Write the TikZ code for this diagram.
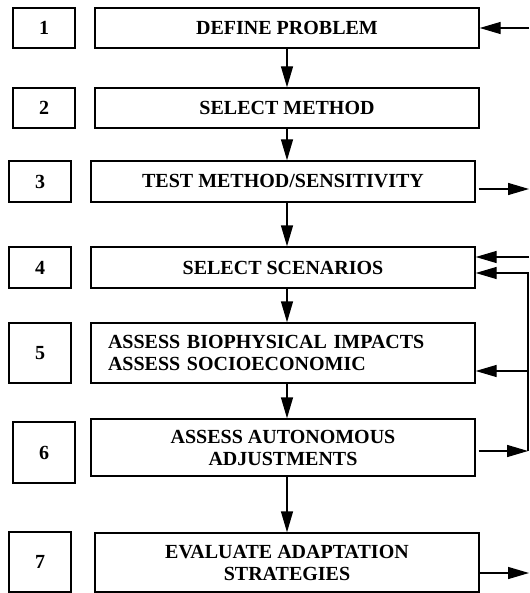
\documentclass[tikz,border=0pt]{standalone}
\usepackage{fontspec}
\setmainfont{Liberation Serif}
\usetikzlibrary{arrows.meta}

\begin{document}
\begin{tikzpicture}[x=0.5pt, y=-0.5pt,
    numbox/.style={draw=black, line width=0.7pt, minimum width=31pt, inner sep=0pt, font=\bfseries\fontsize{10}{11}\selectfont},
    stepbox/.style={draw=black, line width=0.7pt, minimum width=192pt, inner sep=0pt, align=center, font=\bfseries\fontsize{10}{11}\selectfont},
    arr/.style={-{Triangle[length=10.5pt, width=6pt]}, line width=0.7pt}]
      \useasboundingbox (0,0) rectangle (529,593);
      % step numbers
      \node[numbox, minimum height=20pt] at (44,28) (n1) {1};
      \node[numbox, minimum height=20pt] at (44,108) (n2) {2};
      \node[numbox, minimum height=20.5pt] at (40,181.5) (n3) {3};
      \node[numbox, minimum height=20.5pt] at (40,267.5) (n4) {4};
      \node[numbox, minimum height=30pt] at (40,353) (n5) {5};
      \node[numbox, minimum height=30.5pt] at (44,452.5) (n6) {6};
      \node[numbox, minimum height=30pt] at (40,562) (n7) {7};
      % steps
      \node[stepbox, minimum height=20pt] at (287,28) (b1) {DEFINE PROBLEM};
      \node[stepbox, minimum height=20pt] at (287,108) (b2) {SELECT METHOD};
      \node[stepbox, minimum height=20.5pt] at (283,181.5) (b3) {TEST METHOD/SENSITIVITY};
      \node[stepbox, minimum height=20.5pt] at (283,267.5) (b4) {SELECT SCENARIOS};
      \node[stepbox, minimum height=30pt, text width=175pt, inner xsep=8.5pt, align=left] at (283,353) (b5) {ASSESS BIOPHYSICAL IMPACTS\\ASSESS SOCIOECONOMIC};
      \node[stepbox, minimum height=28.5pt] at (283,447.5) (b6) {ASSESS AUTONOMOUS\\ADJUSTMENTS};
      \node[stepbox, minimum height=29.5pt] at (287,562.5) (b7) {EVALUATE ADAPTATION\\STRATEGIES};
      % main flow
      \draw[arr] (b1.south) -- (b1.south |- b2.north);
      \draw[arr] (b2.south) -- (b2.south |- b3.north);
      \draw[arr] (b3.south -| b2.south) -- (b2.south |- b4.north);
      \draw[arr] (b4.south -| b2.south) -- (b2.south |- b5.north);
      \draw[arr] (b5.south -| b2.south) -- (b2.south |- b6.north);
      \draw[arr] (b6.south -| b2.south) -- (b2.south |- b7.north);
      % side links
      \coordinate (in1) at (529,28);
      \coordinate (out3) at (529,189);
      \coordinate (in4) at (529,257);
      \coordinate (fb4) at (528,273);
      \coordinate (fb5) at (528,371);
      \coordinate (fb6) at (528,451);
      \coordinate (out7) at (529,573);
      \draw[arr] (in1) -- (b1.east);
      \draw[arr] ([xshift=1.5pt]b3.east |- out3) -- (out3);
      \draw[arr] (in4) -- (b4.east |- in4);
      \draw[arr] (fb6) -- (fb4) -- (b4.east |- fb4);
      \draw[arr] (fb5) -- (b5.east |- fb5);
      \draw[arr] ([xshift=1.5pt]b6.east |- fb6) -- (fb6);
      \draw[arr] (b7.east |- out7) -- (out7);
\end{tikzpicture}
\end{document}
